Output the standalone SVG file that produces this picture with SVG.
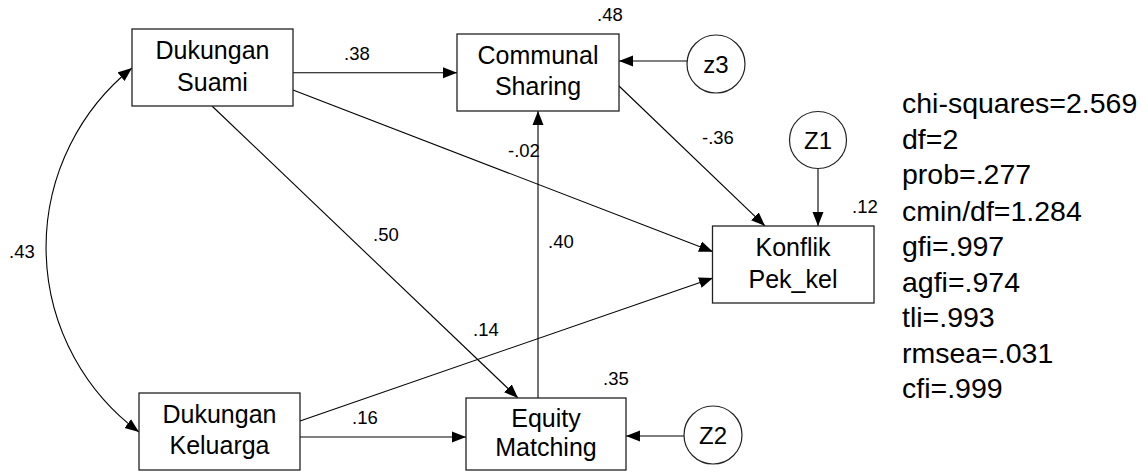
<svg xmlns="http://www.w3.org/2000/svg" width="1147" height="472" viewBox="0 0 1147 472">
<style>
.box{fill:#fff;stroke:#222;stroke-width:1.3}
.circ{fill:#fff;stroke:#222;stroke-width:1.2}
.nt{font-family:"Liberation Sans",Arial,sans-serif;font-size:25px;fill:#000;text-anchor:middle}
.ct{font-family:"Liberation Sans",Arial,sans-serif;font-size:24px;fill:#000;text-anchor:middle}
.lb{font-family:"Liberation Sans",Arial,sans-serif;font-size:18.5px;fill:#000}
.st{font-family:"Liberation Sans",Arial,sans-serif;font-size:28.5px;fill:#000}
.ed{fill:none;stroke:#000;stroke-width:1.1;marker-end:url(#ah)}
</style>
<defs>
<marker id="ah" markerUnits="userSpaceOnUse" markerWidth="14" markerHeight="12" refX="14" refY="6" orient="auto-start-reverse">
<path d="M0,0.5 L14,6 L0,11.5 z" fill="#000"/>
</marker>
</defs>
<rect width="1147" height="472" fill="#fff"/>
<g id="connectors">
<path class="ed" d="M293,72.7 L457,72.7"/>
<path class="ed" d="M687,61 L619,61"/>
<path class="ed" d="M293,90 L713,251.7"/>
<path class="ed" d="M212,106 L518,398"/>
<path class="ed" d="M538,398 L538,111"/>
<path class="ed" d="M619,86 L765,226"/>
<path class="ed" d="M818,168.5 L818,226"/>
<path class="ed" d="M300,421 L713,278"/>
<path class="ed" d="M300,437 L466,437"/>
<path class="ed" d="M684,436 L626,436"/>
<path class="ed" style="marker-start:url(#ah)" d="M132,68 A230,230 0 0 0 139,432"/>
</g>
<g id="labels">
<text class="lb" x="344" y="60">.38</text>
<text class="lb" x="597" y="21">.48</text>
<text class="lb" x="508" y="157">-.02</text>
<text class="lb" x="702" y="144">-.36</text>
<text class="lb" x="852" y="213">.12</text>
<text class="lb" x="373" y="241">.50</text>
<text class="lb" x="548" y="248">.40</text>
<text class="lb" x="9" y="258">.43</text>
<text class="lb" x="473" y="336">.14</text>
<text class="lb" x="603" y="385">.35</text>
<text class="lb" x="352" y="424">.16</text>
</g>
<g id="dukungan-suami">
<rect class="box" x="132" y="29" width="161" height="77"/>
<text class="nt" x="212.5" y="59">Dukungan</text>
<text class="nt" x="212.5" y="91">Suami</text>
</g>
<g id="communal-sharing">
<rect class="box" x="457" y="34" width="162" height="77"/>
<text class="nt" x="538" y="64">Communal</text>
<text class="nt" x="538" y="95">Sharing</text>
</g>
<g id="z3">
<circle class="circ" cx="716" cy="64" r="29"/>
<text class="ct" x="716" y="73">z3</text>
</g>
<g id="Z1">
<circle class="circ" cx="818" cy="140" r="28.5"/>
<text class="ct" x="818" y="149">Z1</text>
</g>
<g id="konflik">
<rect class="box" x="712.5" y="226" width="161.5" height="77"/>
<text class="nt" x="793" y="256">Konflik</text>
<text class="nt" x="793" y="288">Pek_kel</text>
</g>
<g id="dukungan-keluarga">
<rect class="box" x="139" y="393" width="161" height="77"/>
<text class="nt" x="219.5" y="423">Dukungan</text>
<text class="nt" x="219.5" y="454">Keluarga</text>
</g>
<g id="equity-matching">
<rect class="box" x="466" y="398" width="160" height="72"/>
<text class="nt" x="546" y="427">Equity</text>
<text class="nt" x="546" y="456">Matching</text>
</g>
<g id="Z2">
<circle class="circ" cx="713" cy="435" r="29"/>
<text class="ct" x="713" y="444">Z2</text>
</g>
<g id="fit-stats">
<text class="st" x="902" y="113">chi-squares=2.569</text>
<text class="st" x="902" y="148.5">df=2</text>
<text class="st" x="902" y="184">prob=.277</text>
<text class="st" x="902" y="220.5">cmin/df=1.284</text>
<text class="st" x="902" y="256">gfi=.997</text>
<text class="st" x="902" y="291.5">agfi=.974</text>
<text class="st" x="902" y="327">tli=.993</text>
<text class="st" x="902" y="362.5">rmsea=.031</text>
<text class="st" x="902" y="398">cfi=.999</text>
</g>
</svg>
